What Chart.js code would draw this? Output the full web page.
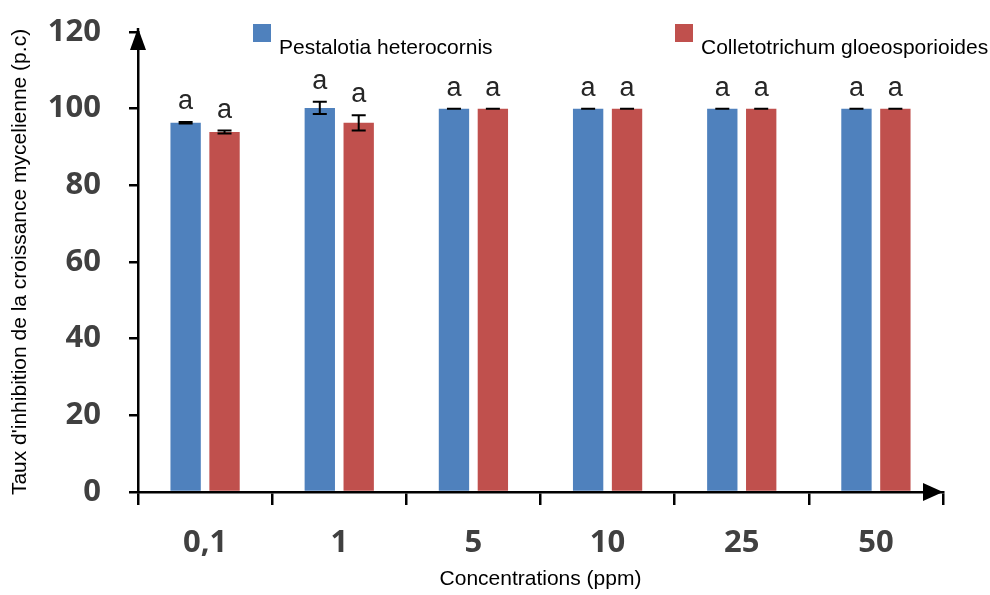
<!DOCTYPE html>
<html>
<head>
<meta charset="utf-8">
<script src="https://cdn.jsdelivr.net/npm/chart.js@4"></script>
<style>
  html, body { margin: 0; padding: 0; background: #fff; }
  #wrap { width: 990px; height: 595px; }
</style>
</head>
<body>
<div id="wrap"><canvas id="chart" width="990" height="595"></canvas></div>
<script>
const categories = ['0,1', '1', '5', '10', '25', '50'];
const seriesNames = ['Pestalotia heterocornis', 'Colletotrichum gloeosporioides'];
const pestalotia = [96.3, 100.2, 100, 100, 100, 100];
const pestalotiaErr = [0.2, 1.6, 0, 0, 0, 0];
const colletotrichum = [93.9, 96.3, 100, 100, 100, 100];
const colletotrichumErr = [0.4, 2.0, 0, 0, 0, 0];
const pestalotiaLetters = ['a', 'a', 'a', 'a', 'a', 'a'];
const colletotrichumLetters = ['a', 'a', 'a', 'a', 'a', 'a'];
const yTicks = [0, 20, 40, 60, 80, 100, 120];

const blue = '#4f81bd';
const red = '#c0504d';

// error bars + letters above bars
const barExtras = {
  id: 'barExtras',
  afterDatasetsDraw(chart) {
    const ctx = chart.ctx;
    const y = chart.scales.y;
    chart.data.datasets.forEach((ds, i) => {
      const meta = chart.getDatasetMeta(i);
      meta.data.forEach((bar, j) => {
        const v = ds.data[j];
        const e = ds.errors[j];
        const top = y.getPixelForValue(v + e);
        const bot = y.getPixelForValue(v - e);
        ctx.save();
        ctx.strokeStyle = '#000';
        ctx.lineWidth = 2;
        ctx.beginPath();
        ctx.moveTo(bar.x, top);
        ctx.lineTo(bar.x, bot);
        ctx.moveTo(bar.x - 7, top);
        ctx.lineTo(bar.x + 7, top);
        ctx.moveTo(bar.x - 7, bot);
        ctx.lineTo(bar.x + 7, bot);
        ctx.stroke();
        ctx.fillStyle = '#262626';
        ctx.font = '27px "Liberation Sans", Arial, sans-serif';
        ctx.textAlign = 'center';
        ctx.textBaseline = 'alphabetic';
        ctx.fillText(ds.letters[j], bar.x, top - 13);
        ctx.restore();
      });
    });
  }
};

// arrow heads on axes + legend
const axisArrows = {
  id: 'axisArrows',
  afterDraw(chart) {
    const ctx = chart.ctx;
    const a = chart.chartArea;
    ctx.save();
    ctx.fillStyle = '#000';
    ctx.strokeStyle = '#000';
    ctx.lineWidth = 2.5;
    // y arrow
    ctx.beginPath();
    ctx.moveTo(a.left, a.top);
    ctx.lineTo(a.left, a.top - 4);
    ctx.stroke();
    ctx.beginPath();
    ctx.moveTo(a.left, a.top - 4);
    ctx.lineTo(a.left - 8, a.top + 18);
    ctx.lineTo(a.left + 8, a.top + 18);
    ctx.closePath();
    ctx.fill();
    // x arrow
    ctx.beginPath();
    ctx.moveTo(a.right, a.bottom);
    ctx.lineTo(a.right - 20, a.bottom - 9);
    ctx.lineTo(a.right - 20, a.bottom + 9);
    ctx.closePath();
    ctx.fill();

    // legend
    const items = [
      { x: 253, color: blue, text: chart.data.datasets[0].label },
      { x: 675, color: red, text: chart.data.datasets[1].label }
    ];
    ctx.font = '21px "Liberation Sans", Arial, sans-serif';
    ctx.textAlign = 'left';
    ctx.textBaseline = 'alphabetic';
    items.forEach(it => {
      ctx.fillStyle = it.color;
      ctx.fillRect(it.x, 24, 18, 18);
      ctx.fillStyle = '#000';
      ctx.fillText(it.text, it.x + 26, 54);
    });
    ctx.restore();
  }
};

new Chart(document.getElementById('chart'), {
  type: 'bar',
  data: {
    labels: categories,
    datasets: [
      {
        label: seriesNames[0],
        data: pestalotia,
        errors: pestalotiaErr,
        letters: pestalotiaLetters,
        backgroundColor: blue
      },
      {
        label: seriesNames[1],
        data: colletotrichum,
        errors: colletotrichumErr,
        letters: colletotrichumLetters,
        backgroundColor: red
      }
    ]
  },
  options: {
    responsive: false,
    animation: false,
    categoryPercentage: 0.58,
    barPercentage: 0.78,
    layout: {
      padding: { left: 0, top: 32, right: 47, bottom: 0 }
    },
    plugins: {
      legend: { display: false },
      tooltip: { enabled: false }
    },
    scales: {
      x: {
        afterFit(scale) { scale.height = 103; },
        grid: {
          display: true,
          drawOnChartArea: false,
          drawTicks: true,
          tickLength: 13,
          color: '#000',
          lineWidth: 2.5
        },
        border: { display: true, color: '#000', width: 2.5 },
        ticks: {
          color: '#404040',
          padding: 20,
          font: { family: '"Open Sans", sans-serif', size: 31, weight: 'bold' }
        },
        title: {
          display: true,
          text: 'Concentrations (ppm)',
          color: '#000',
          padding: { top: 0, bottom: 3 },
          font: { family: '"Liberation Sans", Arial, sans-serif', size: 21 }
        }
      },
      y: {
        min: 0,
        max: 120,
        afterFit(scale) {
          scale.width = 138;
          scale.paddingTop = 0;
          scale.paddingBottom = 0;
        },
        afterBuildTicks(scale) { scale.ticks = yTicks.map(v => ({ value: v })); },
        grid: {
          display: true,
          drawOnChartArea: false,
          drawTicks: true,
          tickLength: 9,
          color: '#000',
          lineWidth: 2.5
        },
        border: { display: true, color: '#000', width: 2.5 },
        ticks: {
          color: '#404040',
          padding: 28,
          font: { family: '"Open Sans", sans-serif', size: 31, weight: 'bold' }
        },
        title: {
          display: true,
          text: "Taux d'inhibition de la croissance mycelienne (p.c)",
          color: '#000',
          padding: { top: 8, bottom: 0 },
          font: { family: '"Liberation Sans", Arial, sans-serif', size: 21 }
        }
      }
    }
  },
  plugins: [barExtras, axisArrows]
});
</script>
</body>
</html>
